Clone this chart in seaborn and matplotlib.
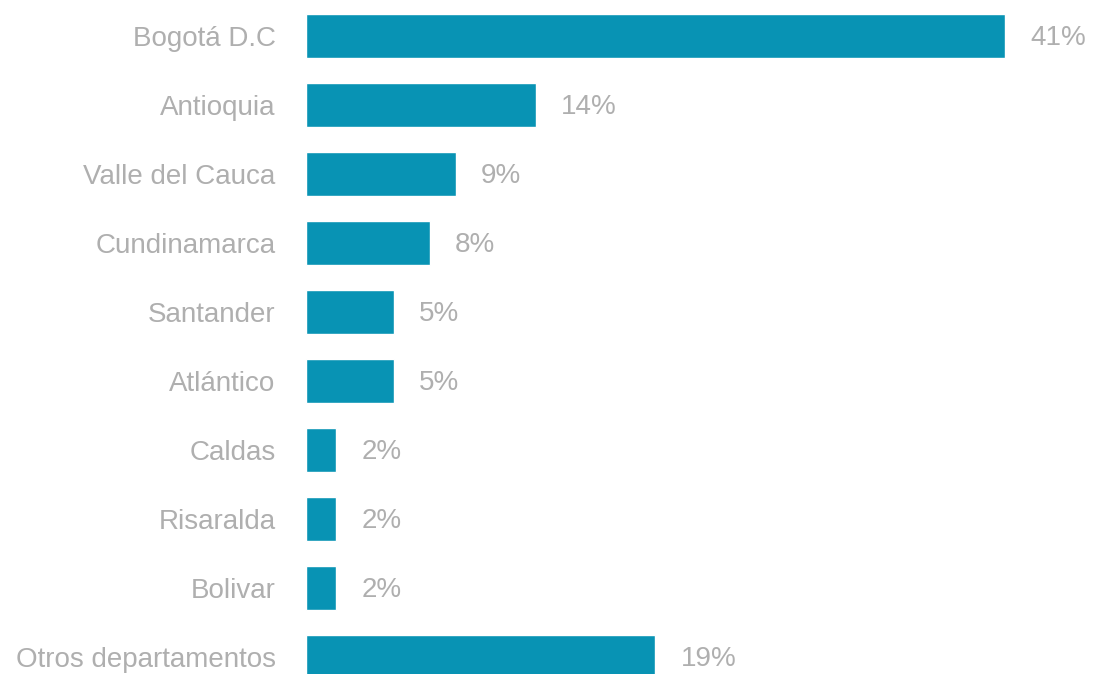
import matplotlib
matplotlib.use("Agg")
import matplotlib.pyplot as plt
import seaborn as sns
import pandas as pd

categories = ["Bogotá D.C", "Antioquia", "Valle del Cauca", "Cundinamarca",
              "Santander", "Atlántico", "Caldas", "Risaralda", "Bolivar",
              "Otros departamentos"]
values = [41.0, 13.5, 8.8, 7.3, 5.2, 5.2, 1.8, 1.8, 1.8, 20.5]
labels = ["41%", "14%", "9%", "8%", "5%", "5%", "2%", "2%", "2%", "19%"]

bar_color = "#0893b4"
text_color = "#afafaf"

sns.set_theme(style="white")
plt.rcParams["font.family"] = ["Liberation Sans", "DejaVu Sans"]

df = pd.DataFrame({"cat": categories, "val": values})

W, H = 1093, 674
fig = plt.figure(figsize=(W / 100, H / 100), dpi=100, facecolor="white")
left = 305.5 / W
ax = fig.add_axes([left, 0, 1 - left, 1])

sns.barplot(data=df, y="cat", x="val", orient="h", color=bar_color,
            width=0.637, saturation=1, ax=ax)

ax.set_xlim(0, (W - 305.5) / 17.07)
ax.set_ylim(9.246, -0.522)

for i, (v, lab) in enumerate(zip(values, labels)):
    ax.annotate(lab, xy=(v, i), xytext=(18, -1.5), textcoords="offset points",
                ha="left", va="center", fontsize=20, color=text_color)

ax.set_xlabel("")
ax.set_ylabel("")
ax.set_xticks([])
ax.tick_params(axis="y", length=0, pad=21.5, labelsize=20, labelcolor=text_color)
for s in ax.spines.values():
    s.set_visible(False)
ax.set_facecolor("white")

fig.savefig("out.png", dpi=100, facecolor="white")
